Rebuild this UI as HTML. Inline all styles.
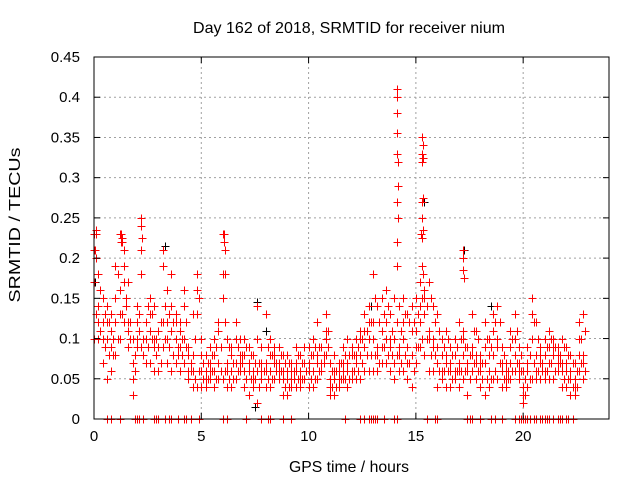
<!DOCTYPE html>
<html><head><meta charset="utf-8"><style>
html,body{margin:0;padding:0;background:#fff;}
svg{display:block;font-family:"Liberation Sans",sans-serif;}
</style></head><body>
<svg id="chart" width="640" height="480" viewBox="0 0 640 480">
<text x="349" y="33" font-size="16" textLength="312" lengthAdjust="spacingAndGlyphs" text-anchor="middle" fill="#000">Day 162 of 2018, SRMTID for receiver nium</text>
<text x="349" y="472" font-size="16" textLength="120" lengthAdjust="spacingAndGlyphs" text-anchor="middle" fill="#000">GPS time / hours</text>
<text x="20" y="225" font-size="16" textLength="155" lengthAdjust="spacingAndGlyphs" text-anchor="middle" fill="#000" transform="rotate(-90 20 225)">SRMTID / TECUs</text>
<g id="grid"></g>
<g id="marks"></g>
<g id="axes"></g>
</svg>
<script>
const xTicks=[0,5,10,15,20];
const yTicks=[0,0.05,0.1,0.15,0.2,0.25,0.3,0.35,0.4,0.45];
const yTickLabels=["0","0.05","0.1","0.15","0.2","0.25","0.3","0.35","0.4","0.45"];
const hours=[0.0,0.2,0.4,0.6,0.8,1.0,1.2,1.4,1.6,1.8,2.0,2.2,2.4,2.6,2.8,3.0,3.2,3.4,3.6,3.8,4.0,4.2,4.4,4.6,4.8,5.0,5.2,5.4,5.6,5.8,6.0,6.2,6.4,6.6,6.8,7.0,7.2,7.4,7.6,7.8,8.0,8.2,8.4,8.6,8.8,9.0,9.2,9.4,9.6,9.8,10.0,10.2,10.4,10.6,10.8,11.0,11.2,11.4,11.6,11.8,12.0,12.2,12.4,12.6,12.8,13.0,13.2,13.4,13.6,13.8,14.0,14.2,14.4,14.6,14.8,15.0,15.2,15.4,15.6,15.8,16.0,16.2,16.4,16.6,16.8,17.0,17.2,17.4,17.6,17.8,18.0,18.2,18.4,18.6,18.8,19.0,19.2,19.4,19.6,19.8,20.0,20.2,20.4,20.6,20.8,21.0,21.2,21.4,21.6,21.8,22.0,22.2,22.4,22.6,22.8];
const srmtidA=[.21,.18,.15,.14,.13,.19,.23,.21,.17,.10,.14,.25,.12,.15,.14,.11,.21,.16,.14,.13,.12,.16,.09,.13,.18,.10,.08,.09,.10,.11,.23,.10,.09,.12,.10,.10,.09,.08,.14,.07,.13,.10,.09,.09,.08,.08,.07,.09,.08,.09,.09,.10,.12,.09,.13,.07,.08,.07,.09,.10,.09,.10,.11,.13,.14,.18,.14,.15,.16,.13,.15,.14,.15,.13,.14,.15,.17,.16,.17,.14,.13,.10,.11,.09,.10,.12,.11,.09,.13,.11,.08,.12,.10,.13,.14,.09,.07,.11,.13,.09,.06,.09,.15,.12,.08,.10,.11,.10,.09,.10,.09,.08,.07,.12,.13];
const srmtidB=[.17,.12,.12,.12,.11,.12,.16,.17,.12,.07,.10,.21,.10,.11,.09,.06,.12,.12,.11,.12,.09,.10,.08,.06,.16,.06,.06,.07,.06,.07,.15,.07,.06,.07,.08,.06,.06,.05,.06,.06,.07,.06,.08,.07,.06,.06,.05,.06,.05,.07,.07,.06,.08,.07,.10,.04,.05,.06,.06,.07,.06,.07,.08,.09,.10,.10,.09,.11,.10,.09,.10,.09,.10,.09,.11,.11,.12,.13,.11,.10,.07,.08,.07,.07,.06,.07,.08,.07,.08,.07,.06,.07,.06,.08,.09,.06,.05,.07,.08,.06,.04,.06,.10,.08,.07,.08,.09,.08,.07,.07,.06,.06,.05,.08,.08];
const srmtidC=[.10,.10,.07,.05,.06,.08,.10,.12,.09,.05,.09,.09,.07,.07,.06,.06,.09,.07,.06,.07,.06,.07,.05,.04,.04,.04,.04,.05,.04,.05,.05,.04,.04,.05,.06,.04,.03,.04,.02,.05,.04,.04,.05,.05,.03,.03,.04,.04,.04,.05,.04,.04,.05,.06,.08,.03,.03,.04,.05,.04,.05,.05,.05,.06,.06,.06,.06,.07,.07,.06,.05,.06,.06,.05,.04,.07,.09,.08,.06,.06,.04,.05,.04,.04,.05,.04,.05,.03,.06,.05,.04,.03,.04,.05,.05,.04,.04,.05,.06,.05,.02,.04,.05,.05,.05,.05,.05,.05,.06,.04,.04,.03,.03,.06,.05];
const srmtidD=[.23,.14,.10,.10,.09,.15,.13,.19,.11,.03,.12,.18,.12,.13,.10,.09,.19,.10,.18,.10,.11,.14,.06,.08,.13,.08,.05,.06,.08,.12,.18,.06,.08,.10,.07,.08,.07,.06,.10,.09,.06,.08,.07,.06,.05,.05,.06,.07,.06,.07,.06,.08,.07,.09,.11,.05,.06,.05,.07,.06,.08,.08,.10,.11,.12,.12,.08,.09,.12,.10,.07,.08,.12,.07,.08,.09,.14,.15,.10,.09,.09,.06,.08,.06,.08,.06,.10,.06,.09,.08,.07,.09,.08,.11,.10,.07,.06,.09,.10,.07,.03,.07,.13,.06,.09,.06,.07,.09,.08,.06,.07,.05,.04,.10,.07];
const hoursB=[0.1,0.3,0.5,0.7,0.9,1.1,1.3,1.5,1.7,1.9,2.1,2.3,2.5,2.7,2.9,3.1,3.3,3.5,3.7,3.9,4.1,4.3,4.5,4.7,4.9,5.1,5.3,5.5,5.7,5.9,6.1,6.3,6.5,6.7,6.9,7.1,7.3,7.5,7.7,7.9,8.1,8.3,8.5,8.7,8.9,9.1,9.3,9.5,9.7,9.9,10.1,10.3,10.5,10.7,10.9,11.1,11.3,11.5,11.7,11.9,12.1,12.3,12.5,12.7,12.9,13.1,13.3,13.5,13.7,13.9,14.1,14.3,14.5,14.7,14.9,15.1,15.3,15.5,15.7,15.9,16.1,16.3,16.5,16.7,16.9,17.1,17.3,17.5,17.7,17.9,18.1,18.3,18.5,18.7,18.9,19.1,19.3,19.5,19.7,19.9,20.1,20.3,20.5,20.7,20.9,21.1,21.3,21.5,21.7,21.9,22.1,22.3,22.5,22.7,22.9];
const srmtidE=[.20,.16,.13,.12,.10,.18,.22,.15,.12,.08,.13,.10,.14,.13,.10,.12,.14,.13,.12,.09,.10,.12,.07,.10,.15,.07,.07,.08,.09,.09,.12,.09,.07,.09,.08,.09,.08,.07,.07,.06,.09,.08,.07,.08,.07,.07,.06,.08,.07,.06,.08,.09,.09,.08,.11,.06,.06,.07,.08,.08,.08,.09,.10,.11,.12,.15,.12,.13,.14,.11,.12,.11,.13,.12,.12,.13,.15,.14,.15,.12,.11,.09,.10,.08,.09,.10,.09,.08,.11,.10,.07,.10,.09,.12,.12,.08,.06,.10,.11,.08,.05,.08,.12,.10,.07,.09,.10,.09,.08,.09,.08,.07,.06,.10,.11];
const srmtidF=[.13,.11,.09,.08,.08,.10,.13,.14,.10,.06,.11,.08,.09,.10,.08,.07,.10,.09,.08,.08,.08,.09,.06,.05,.06,.05,.05,.06,.05,.06,.06,.05,.05,.06,.07,.05,.05,.05,.04,.06,.05,.05,.06,.06,.04,.04,.05,.05,.05,.06,.05,.05,.06,.07,.09,.04,.04,.05,.05,.05,.06,.06,.07,.08,.08,.08,.07,.09,.08,.08,.08,.07,.08,.07,.06,.09,.10,.10,.08,.08,.06,.06,.06,.05,.06,.06,.06,.05,.07,.06,.05,.05,.05,.06,.07,.05,.05,.06,.07,.06,.03,.05,.07,.06,.06,.06,.07,.06,.07,.05,.05,.04,.04,.07,.06];
const spikeHours=[14.1,14.1,14.1,14.1,14.1,14.15,14.15,14.1,14.15,14.1,14.1,15.3,15.35,15.3,15.35,15.3,15.35,15.3,15.3,15.35,15.25,15.3,15.3,15.35,17.2,17.2,17.2,17.25,6.05,6.05,6.1,6.1,2.2,2.2,2.25,2.2,1.25,1.3,1.25,0.1,0.1,0.05,0.1];
const spikeVals=[.41,.40,.38,.355,.33,.32,.29,.27,.25,.22,.19,.35,.34,.33,.325,.32,.275,.27,.25,.235,.23,.225,.19,.18,.21,.20,.185,.175,.23,.22,.21,.18,.25,.24,.225,.21,.23,.225,.22,.235,.23,.21,.20];
const blackHours=[0.05,3.3,7.6,7.5,15.4,17.25,8.0,10.9,12.9,18.5];
const blackVals=[.17,.215,.145,.015,.27,.21,.11,.11,.14,.14];
const zeroHours=[0.6,0.8,1.2,1.9,2.0,2.1,2.3,2.8,2.9,3.0,3.3,3.5,3.6,3.9,4.2,4.3,4.5,4.9,6.0,6.2,7.1,7.8,8.1,8.2,8.8,9.2,11.7,12.4,12.6,12.8,12.9,13.0,13.1,13.2,13.5,14.0,14.1,15.5,15.9,16.0,17.4,17.5,17.6,18.0,18.5,18.7,19.0,19.6,19.8,19.9,20.0,20.1,20.2,20.3,20.5,20.6,20.8,20.9,21.0,21.1,21.2,21.4,21.6,21.7,21.8,22.0,22.1,22.3];

const L=94,R=609,T=57,B=419,XMAX=24,YMAX=0.45;
function xs(h){return L+(h/XMAX)*(R-L);}
function ys(v){return B-(v/YMAX)*(B-T);}
const NS="http://www.w3.org/2000/svg";
const grid=document.getElementById('grid'),marks=document.getElementById('marks'),axes=document.getElementById('axes');
function mk(tag,attrs,parent){const e=document.createElementNS(NS,tag);for(const k in attrs)e.setAttribute(k,attrs[k]);parent.appendChild(e);return e;}
xTicks.forEach(t=>{
  const x=xs(t);
  if(t>0){const g=mk('line',{x1:x,y1:T,x2:x,y2:B,stroke:'#a0a0a0','stroke-dasharray':'2,3','stroke-width':1},grid);
  
  }
  mk('line',{x1:x,y1:B,x2:x,y2:B-6,stroke:'#000'},axes);
  mk('line',{x1:x,y1:T,x2:x,y2:T+6,stroke:'#000'},axes);
  const tx=mk('text',{x:x,y:B+22,'font-size':15,'text-anchor':'middle',fill:'#000'},axes);
  tx.textContent=t;
  
  
});
yTicks.forEach((t,i)=>{
  const y=ys(t);
  if(i>0){const g=mk('line',{x1:L,y1:y,x2:R,y2:y,stroke:'#a0a0a0','stroke-dasharray':'2,3','stroke-width':1},grid);
  
  }
  mk('line',{x1:L,y1:y,x2:L+6,y2:y,stroke:'#000'},axes);
  mk('line',{x1:R,y1:y,x2:R-6,y2:y,stroke:'#000'},axes);
  const tx=mk('text',{x:80,y:y+5,'font-size':15,'text-anchor':'end',fill:'#000'},axes);
  tx.textContent=yTickLabels[i];
  
  
});
const frame=mk('rect',{x:L,y:T,width:R-L,height:B-T,fill:'none',stroke:'#000','stroke-width':1},axes);


function plus(h,v,color){
  const x=Math.round(xs(h))+0.5,y=Math.round(ys(v))+0.5;
  const p=mk('path',{d:`M${x-4} ${y}H${x+4}M${x} ${y-4}V${y+4}`,stroke:color,'stroke-width':1,fill:'none','shape-rendering':'crispEdges'},marks);
  
  
}
blackHours.forEach((h,i)=>plus(h,blackVals[i],'#000000'));
[srmtidA,srmtidB,srmtidC,srmtidD].forEach(s=>hours.forEach((h,i)=>plus(h,s[i],'#ff0000')));
[srmtidE,srmtidF].forEach(s=>hoursB.forEach((h,i)=>plus(h,s[i],'#ff0000')));
spikeHours.forEach((h,i)=>plus(h,spikeVals[i],'#ff0000'));
zeroHours.forEach(h=>plus(h,0,'#ff0000'));
</script>
</body></html>
